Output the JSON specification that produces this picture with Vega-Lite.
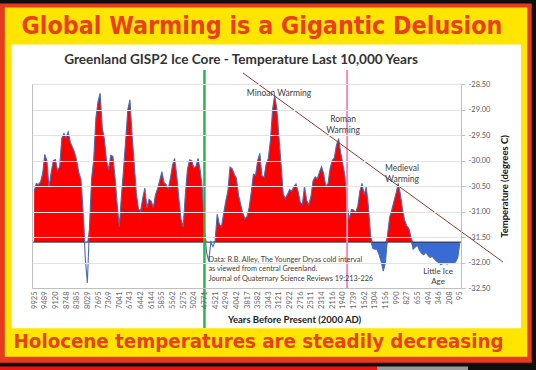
{
  "$schema": "https://vega.github.io/schema/vega-lite/v6.json",
  "width": 429,
  "height": 204,
  "autosize": {"type": "none"},
  "padding": {"left": 32, "top": 84, "right": 75, "bottom": 82},
  "background": "#0e0e0e",
  "config": {"view": {"stroke": null}, "font": "Lato"},
  "datasets": {
    "gisp2": [
      {"n":0,"temp":-30.6},{"n":1,"temp":-30.45},{"n":2,"temp":-30.47},{"n":3,"temp":-30.42},{"n":4,"temp":-30.26},{"n":5,"temp":-29.88},{"n":6,"temp":-30.0},{"n":7,"temp":-30.53},{"n":8,"temp":-30.23},{"n":9,"temp":-30.0},
      {"n":10,"temp":-29.98},{"n":11,"temp":-30.2},{"n":12,"temp":-30.12},{"n":13,"temp":-29.56},{"n":14,"temp":-29.47},{"n":15,"temp":-29.55},{"n":16,"temp":-29.44},{"n":17,"temp":-29.64},{"n":18,"temp":-29.74},{"n":19,"temp":-29.84},
      {"n":20,"temp":-30.0},{"n":21,"temp":-30.24},{"n":22,"temp":-30.37},{"n":23,"temp":-31.0},{"n":24,"temp":-31.9},{"n":25,"temp":-32.4},{"n":26,"temp":-31.3},{"n":27,"temp":-30.35},{"n":28,"temp":-29.98},{"n":29,"temp":-29.17},
      {"n":30,"temp":-28.85},{"n":31,"temp":-28.68},{"n":32,"temp":-29.36},{"n":33,"temp":-29.58},{"n":34,"temp":-30.0},{"n":35,"temp":-30.18},{"n":36,"temp":-29.9},{"n":37,"temp":-29.92},{"n":38,"temp":-30.33},{"n":39,"temp":-30.86},
      {"n":40,"temp":-31.3},{"n":41,"temp":-30.7},{"n":42,"temp":-30.17},{"n":43,"temp":-29.6},{"n":44,"temp":-29.0},{"n":45,"temp":-28.81},{"n":46,"temp":-29.5},{"n":47,"temp":-30.06},{"n":48,"temp":-30.64},{"n":49,"temp":-30.95},
      {"n":50,"temp":-30.99},{"n":51,"temp":-30.74},{"n":52,"temp":-30.54},{"n":53,"temp":-30.93},{"n":54,"temp":-30.76},{"n":55,"temp":-30.8},{"n":56,"temp":-30.92},{"n":57,"temp":-30.67},{"n":58,"temp":-30.55},{"n":59,"temp":-30.39},
      {"n":60,"temp":-30.22},{"n":61,"temp":-30.43},{"n":62,"temp":-30.47},{"n":63,"temp":-30.55},{"n":64,"temp":-30.35},{"n":65,"temp":-30.09},{"n":66,"temp":-29.96},{"n":67,"temp":-30.3},{"n":68,"temp":-30.75},{"n":69,"temp":-31.15},
      {"n":70,"temp":-31.3},{"n":71,"temp":-30.68},{"n":72,"temp":-30.18},{"n":73,"temp":-29.99},{"n":74,"temp":-30.0},{"n":75,"temp":-30.14},{"n":76,"temp":-30.12},{"n":77,"temp":-29.96},{"n":78,"temp":-30.2},{"n":79,"temp":-30.55},
      {"n":80,"temp":-31.35},{"n":81,"temp":-31.8},{"n":82,"temp":-31.98},{"n":83,"temp":-31.6},{"n":84,"temp":-31.69},{"n":85,"temp":-31.58},{"n":86,"temp":-31.05},{"n":87,"temp":-31.25},{"n":88,"temp":-31.3},{"n":89,"temp":-31.04},
      {"n":90,"temp":-30.8},{"n":91,"temp":-30.6},{"n":92,"temp":-30.13},{"n":93,"temp":-30.16},{"n":94,"temp":-30.27},{"n":95,"temp":-30.35},{"n":96,"temp":-30.68},{"n":97,"temp":-30.86},{"n":98,"temp":-31.03},{"n":99,"temp":-31.14},
      {"n":100,"temp":-31.1},{"n":101,"temp":-30.92},{"n":102,"temp":-30.62},{"n":103,"temp":-30.27},{"n":104,"temp":-30.29},{"n":105,"temp":-30.0},{"n":106,"temp":-29.86},{"n":107,"temp":-30.3},{"n":108,"temp":-30.33},{"n":109,"temp":-30.06},
      {"n":110,"temp":-29.96},{"n":111,"temp":-29.6},{"n":112,"temp":-29.0},{"n":113,"temp":-28.72},{"n":114,"temp":-28.99},{"n":115,"temp":-29.55},{"n":116,"temp":-30.08},{"n":117,"temp":-30.66},{"n":118,"temp":-30.74},{"n":119,"temp":-30.66},
      {"n":120,"temp":-30.57},{"n":121,"temp":-30.6},{"n":122,"temp":-30.51},{"n":123,"temp":-30.46},{"n":124,"temp":-30.61},{"n":125,"temp":-30.82},{"n":126,"temp":-30.86},{"n":127,"temp":-30.5},{"n":128,"temp":-30.78},{"n":129,"temp":-30.87},
      {"n":130,"temp":-30.71},{"n":131,"temp":-30.4},{"n":132,"temp":-30.32},{"n":133,"temp":-30.36},{"n":134,"temp":-30.23},{"n":135,"temp":-30.12},{"n":136,"temp":-30.26},{"n":137,"temp":-30.5},{"n":138,"temp":-30.46},{"n":139,"temp":-30.16},
      {"n":140,"temp":-30.0},{"n":141,"temp":-29.95},{"n":142,"temp":-29.7},{"n":143,"temp":-29.57},{"n":144,"temp":-29.85},{"n":145,"temp":-30.07},{"n":146,"temp":-30.31},{"n":147,"temp":-30.88},{"n":148,"temp":-31.15},{"n":149,"temp":-30.96},
      {"n":150,"temp":-30.97},{"n":151,"temp":-31.02},{"n":152,"temp":-30.9},{"n":153,"temp":-30.6},{"n":154,"temp":-30.45},{"n":155,"temp":-30.67},{"n":156,"temp":-30.52},{"n":157,"temp":-30.9},{"n":158,"temp":-31.45},{"n":159,"temp":-31.72},
      {"n":160,"temp":-31.74},{"n":161,"temp":-31.74},{"n":162,"temp":-31.84},{"n":163,"temp":-31.98},{"n":164,"temp":-32.17},{"n":165,"temp":-32.0},{"n":166,"temp":-31.45},{"n":167,"temp":-31.11},{"n":168,"temp":-30.97},{"n":169,"temp":-30.8},
      {"n":170,"temp":-30.64},{"n":171,"temp":-30.45},{"n":172,"temp":-30.66},{"n":173,"temp":-30.95},{"n":174,"temp":-31.17},{"n":175,"temp":-31.28},{"n":176,"temp":-31.33},{"n":177,"temp":-31.5},{"n":178,"temp":-31.74},{"n":179,"temp":-31.7},
      {"n":180,"temp":-31.66},{"n":181,"temp":-31.76},{"n":182,"temp":-31.82},{"n":183,"temp":-31.85},{"n":184,"temp":-31.8},{"n":185,"temp":-31.86},{"n":186,"temp":-31.9},{"n":187,"temp":-31.88},{"n":188,"temp":-31.93},{"n":189,"temp":-31.97},
      {"n":190,"temp":-32.0},{"n":191,"temp":-32.04},{"n":192,"temp":-32.02},{"n":193,"temp":-32.0},{"n":194,"temp":-32.03},{"n":195,"temp":-32.0},{"n":196,"temp":-32.01},{"n":197,"temp":-32.02},{"n":198,"temp":-31.99},{"n":199,"temp":-31.9},
      {"n":200,"temp":-31.6}
    ]
  },
  "data": {"name": "gisp2"},
  "resolve": {"scale": {"x": "independent", "y": "independent"}},
  "layer": [
    {
      "data": {"values": [{}]},
      "mark": {"type": "rect", "color": "#e43a1f", "clip": false},
      "encoding": {
        "x": {"datum": -16.03, "type": "quantitative", "scale": {"domain": [-1, 200.5], "nice": false, "zero": false}, "axis": null},
        "x2": {"datum": 233.71},
        "y": {"datum": -26.92, "type": "quantitative", "scale": {"domain": [-32.5, -28.5], "nice": false, "zero": false}, "axis": null},
        "y2": {"datum": -33.965}
      }
    },
    {
      "data": {"values": [{}]},
      "mark": {"type": "rect", "color": "#ffe500", "clip": false},
      "encoding": {
        "x": {"datum": -13.78, "type": "quantitative", "scale": {"domain": [-1, 200.5], "nice": false, "zero": false}, "axis": null},
        "x2": {"datum": 231.64},
        "y": {"datum": -27.0, "type": "quantitative", "scale": {"domain": [-32.5, -28.5], "nice": false, "zero": false}, "axis": null},
        "y2": {"datum": -33.847}
      }
    },
    {
      "data": {"values": [{}]},
      "mark": {"type": "rect", "color": "#ffffff", "clip": false},
      "encoding": {
        "x": {"datum": -10.535, "type": "quantitative", "scale": {"domain": [-1, 200.5], "nice": false, "zero": false}, "axis": null},
        "x2": {"datum": 228.68},
        "y": {"datum": -27.725, "type": "quantitative", "scale": {"domain": [-32.5, -28.5], "nice": false, "zero": false}, "axis": null},
        "y2": {"datum": -33.29}
      }
    },
    {
      "data": {"values": [{}]},
      "mark": {"type": "rect", "color": "#ee1111", "clip": false},
      "encoding": {
        "x": {"datum": -16.03, "type": "quantitative", "scale": {"domain": [-1, 200.5], "nice": false, "zero": false}, "axis": null},
        "x2": {"datum": 161.05},
        "y": {"datum": -34.039, "type": "quantitative", "scale": {"domain": [-32.5, -28.5], "nice": false, "zero": false}, "axis": null},
        "y2": {"datum": -34.108}
      }
    },
    {
      "data": {"values": [{}]},
      "mark": {"type": "rect", "color": "#9a9a9a", "clip": false},
      "encoding": {
        "x": {"datum": 161.05, "type": "quantitative", "scale": {"domain": [-1, 200.5], "nice": false, "zero": false}, "axis": null},
        "x2": {"datum": 203.8},
        "y": {"datum": -34.039, "type": "quantitative", "scale": {"domain": [-32.5, -28.5], "nice": false, "zero": false}, "axis": null},
        "y2": {"datum": -34.108}
      }
    },
    {
      "mark": {"type": "area", "color": "#ff0000", "line": false},
      "encoding": {
        "x": {"field": "n", "type": "quantitative", "scale": {"domain": [-1, 200.5], "nice": false, "zero": false}, "axis": null},
        "y": {"field": "temp", "type": "quantitative", "scale": {"domain": [-31.6, -28.5], "range": [158.1, 0], "clamp": true, "nice": false, "zero": false}, "axis": null},
        "y2": {"datum": -31.6}
      }
    },
    {
      "transform": [{"filter": "datum.n >= 158"}],
      "mark": {"type": "area", "color": "#3a6bd4", "line": false},
      "encoding": {
        "x": {"field": "n", "type": "quantitative", "scale": {"domain": [-1, 200.5], "nice": false, "zero": false}, "axis": null},
        "y": {"field": "temp", "type": "quantitative", "scale": {"domain": [-32.5, -31.6], "range": [204, 158.1], "clamp": true, "nice": false, "zero": false}, "axis": null},
        "y2": {"datum": -31.6}
      }
    },
    {
      "data": {"values": [{}]},
      "mark": {"type": "rule", "color": "#2a2a2a", "strokeWidth": 1},
      "encoding": {
        "y": {"datum": -31.6, "type": "quantitative", "scale": {"domain": [-32.5, -28.5], "nice": false, "zero": false}, "axis": null}
      }
    },
    {
      "mark": {"type": "line", "color": "#4a6db0", "strokeWidth": 1.1},
      "encoding": {
        "x": {"field": "n", "type": "quantitative", "scale": {"domain": [-1, 200.5], "nice": false, "zero": false},
          "axis": {"orient": "bottom", "values": [0,5,10,15,20,25,30,35,40,45,50,55,60,65,70,75,80,85,90,95,100,105,110,115,120,125,130,135,140,145,150,155,160,165,170,175,180,185,190,195,200],
            "labelExpr": "['9925','9489','9120','8748','8385','8029','7695','7369','7041','6743','6442','6144','5855','5562','5275','5024','4771','4521','4294','4042','3817','3582','3343','3121','2922','2716','2511','2314','2116','1940','1739','1562','1304','1156','990','827','655','494','346','208','95'][round(datum.value/5)]",
            "labelAngle": -90, "labelFontSize": 7.5, "labelColor": "#666666", "labelFont": "Lato", "labelPadding": 3, "labelOverlap": false, "labelFlush": false,
            "ticks": false, "grid": false, "domain": true, "domainColor": "#bfbfbf",
            "title": "Years Before Present (2000 AD)", "titleFont": "Lato", "titleFontSize": 9.5, "titleFontWeight": "bold", "titleColor": "#222222", "titleX": 262, "titlePadding": 6, "zindex": 1}},
        "y": {"field": "temp", "type": "quantitative", "scale": {"domain": [-32.5, -28.5], "nice": false, "zero": false},
          "axis": {"orient": "right", "values": [-32.5,-32,-31.5,-31,-30.5,-30,-29.5,-29,-28.5],
            "labelExpr": "replace(format(datum.value, '.2f'), '\u2212', '-')",
            "grid": true, "gridColor": "#e2e2e2", "gridWidth": 1, "domainColor": "#bfbfbf", "tickColor": "#bfbfbf", "tickSize": 4,
            "labelFontSize": 7.5, "labelColor": "#595959", "labelFont": "Lato", "labelPadding": 3,
            "title": "Temperature (degrees C)", "titleAngle": 270, "titleFont": "Lato", "titleFontSize": 9.5, "titleFontWeight": "bold", "titleColor": "#111111", "titlePadding": 20, "zindex": 1}}
      }
    },
    {
      "data": {"values": [{}]},
      "mark": {"type": "rule", "color": "#2eb34b", "strokeWidth": 2.5, "clip": false},
      "encoding": {
        "x": {"datum": 80, "type": "quantitative", "scale": {"domain": [-1, 200.5], "nice": false, "zero": false}, "axis": null},
        "y": {"datum": -28.225, "type": "quantitative", "scale": {"domain": [-32.5, -28.5], "nice": false, "zero": false},
          "axis": {"orient": "left", "labels": false, "ticks": false, "grid": false, "domain": true, "domainColor": "#bfbfbf", "title": null, "zindex": 1}},
        "y2": {"datum": -33.284}
      }
    },
    {
      "data": {"values": [{}]},
      "mark": {"type": "rule", "color": "#ee8fb5", "strokeWidth": 2, "clip": false},
      "encoding": {
        "x": {"datum": 147, "type": "quantitative", "scale": {"domain": [-1, 200.5], "nice": false, "zero": false}, "axis": null},
        "y": {"datum": -28.225, "type": "quantitative", "scale": {"domain": [-32.5, -28.5], "nice": false, "zero": false}, "axis": null},
        "y2": {"datum": -32.5}
      }
    },
    {
      "data": {"values": [{}]},
      "mark": {"type": "rule", "color": "#8c3b2f", "strokeWidth": 1, "clip": false},
      "encoding": {
        "x": {"datum": 98.1, "type": "quantitative", "scale": {"domain": [-1, 200.5], "nice": false, "zero": false}, "axis": null},
        "x2": {"datum": 220.2},
        "y": {"datum": -28.284, "type": "quantitative", "scale": {"domain": [-32.5, -28.5], "nice": false, "zero": false}, "axis": null},
        "y2": {"datum": -31.99}
      }
    },
    {
      "data": {"values": [{}]},
      "mark": {"type": "text", "font": "Lato", "fontSize": 13.6, "fontWeight": "bold", "color": "#333333", "align": "center", "baseline": "middle", "clip": false},
      "encoding": {
        "text": {"value": "Greenland GISP2 Ice Core - Temperature  Last 10,000 Years"},
        "x": {"datum": 97.2, "type": "quantitative", "scale": {"domain": [-1, 200.5], "nice": false, "zero": false}, "axis": null},
        "y": {"datum": -28.03, "type": "quantitative", "scale": {"domain": [-32.5, -28.5], "nice": false, "zero": false}, "axis": null}
      }
    },
    {
      "data": {"values": [{}]},
      "mark": {"type": "text", "font": "Lato", "fontSize": 8.5, "color": "#404040", "align": "center", "baseline": "middle", "clip": false},
      "encoding": {
        "text": {"value": "Minoan Warming"},
        "x": {"datum": 115.0, "type": "quantitative", "scale": {"domain": [-1, 200.5], "nice": false, "zero": false}, "axis": null},
        "y": {"datum": -28.671, "type": "quantitative", "scale": {"domain": [-32.5, -28.5], "nice": false, "zero": false}, "axis": null}
      }
    },
    {
      "data": {"values": [{}]},
      "mark": {"type": "text", "font": "Lato", "fontSize": 8.5, "color": "#404040", "align": "center", "baseline": "middle", "lineBreak": "\n", "lineHeight": 10.7, "clip": false},
      "encoding": {
        "text": {"value": "Roman\nWarming"},
        "x": {"datum": 145.1, "type": "quantitative", "scale": {"domain": [-1, 200.5], "nice": false, "zero": false}, "axis": null},
        "y": {"datum": -29.192, "type": "quantitative", "scale": {"domain": [-32.5, -28.5], "nice": false, "zero": false}, "axis": null}
      }
    },
    {
      "data": {"values": [{}]},
      "mark": {"type": "text", "font": "Lato", "fontSize": 8.5, "color": "#404040", "align": "center", "baseline": "middle", "lineBreak": "\n", "lineHeight": 10.7, "clip": false},
      "encoding": {
        "text": {"value": "Medieval\nWarming"},
        "x": {"datum": 172.8, "type": "quantitative", "scale": {"domain": [-1, 200.5], "nice": false, "zero": false}, "axis": null},
        "y": {"datum": -30.153, "type": "quantitative", "scale": {"domain": [-32.5, -28.5], "nice": false, "zero": false}, "axis": null}
      }
    },
    {
      "data": {"values": [{}]},
      "mark": {"type": "text", "font": "Lato", "fontSize": 8, "color": "#404040", "align": "center", "baseline": "middle", "lineBreak": "\n", "lineHeight": 9.4, "clip": false},
      "encoding": {
        "text": {"value": "Little Ice\nAge"},
        "x": {"datum": 189.7, "type": "quantitative", "scale": {"domain": [-1, 200.5], "nice": false, "zero": false}, "axis": null},
        "y": {"datum": -32.192, "type": "quantitative", "scale": {"domain": [-32.5, -28.5], "nice": false, "zero": false}, "axis": null}
      }
    },
    {
      "data": {"values": [{}]},
      "mark": {"type": "text", "font": "Lato", "fontSize": 7.3, "color": "#404040", "align": "left", "baseline": "middle", "lineBreak": "\n", "lineHeight": 9.4, "clip": false},
      "encoding": {
        "text": {"value": "Data: R.B. Alley,  The Younger Dryas cold interval\nas viewed from central Greenland.\nJournal of Quaternary  Science Reviews 19:213-226"},
        "x": {"datum": 81.9, "type": "quantitative", "scale": {"domain": [-1, 200.5], "nice": false, "zero": false}, "axis": null},
        "y": {"datum": -31.951, "type": "quantitative", "scale": {"domain": [-32.5, -28.5], "nice": false, "zero": false}, "axis": null}
      }
    },
    {
      "data": {"values": [{}]},
      "mark": {"type": "text", "font": "DejaVu Sans Condensed, Roboto", "fontWeight": "bold", "fontSize": 24.8, "color": "#e8401f", "align": "center", "baseline": "middle", "clip": false},
      "encoding": {
        "text": {"value": "Global Warming is a Gigantic Delusion"},
        "x": {"datum": 107.0, "type": "quantitative", "scale": {"domain": [-1, 200.5], "nice": false, "zero": false}, "axis": null},
        "y": {"datum": -27.376, "type": "quantitative", "scale": {"domain": [-32.5, -28.5], "nice": false, "zero": false}, "axis": null}
      }
    },
    {
      "data": {"values": [{}]},
      "mark": {"type": "text", "font": "DejaVu Sans Condensed, Roboto", "fontWeight": "bold", "fontSize": 20.3, "color": "#e8401f", "align": "center", "baseline": "middle", "clip": false},
      "encoding": {
        "text": {"value": "Holocene temperatures are steadily decreasing"},
        "x": {"datum": 105.4, "type": "quantitative", "scale": {"domain": [-1, 200.5], "nice": false, "zero": false}, "axis": null},
        "y": {"datum": -33.559, "type": "quantitative", "scale": {"domain": [-32.5, -28.5], "nice": false, "zero": false}, "axis": null}
      }
    }
  ]
}
